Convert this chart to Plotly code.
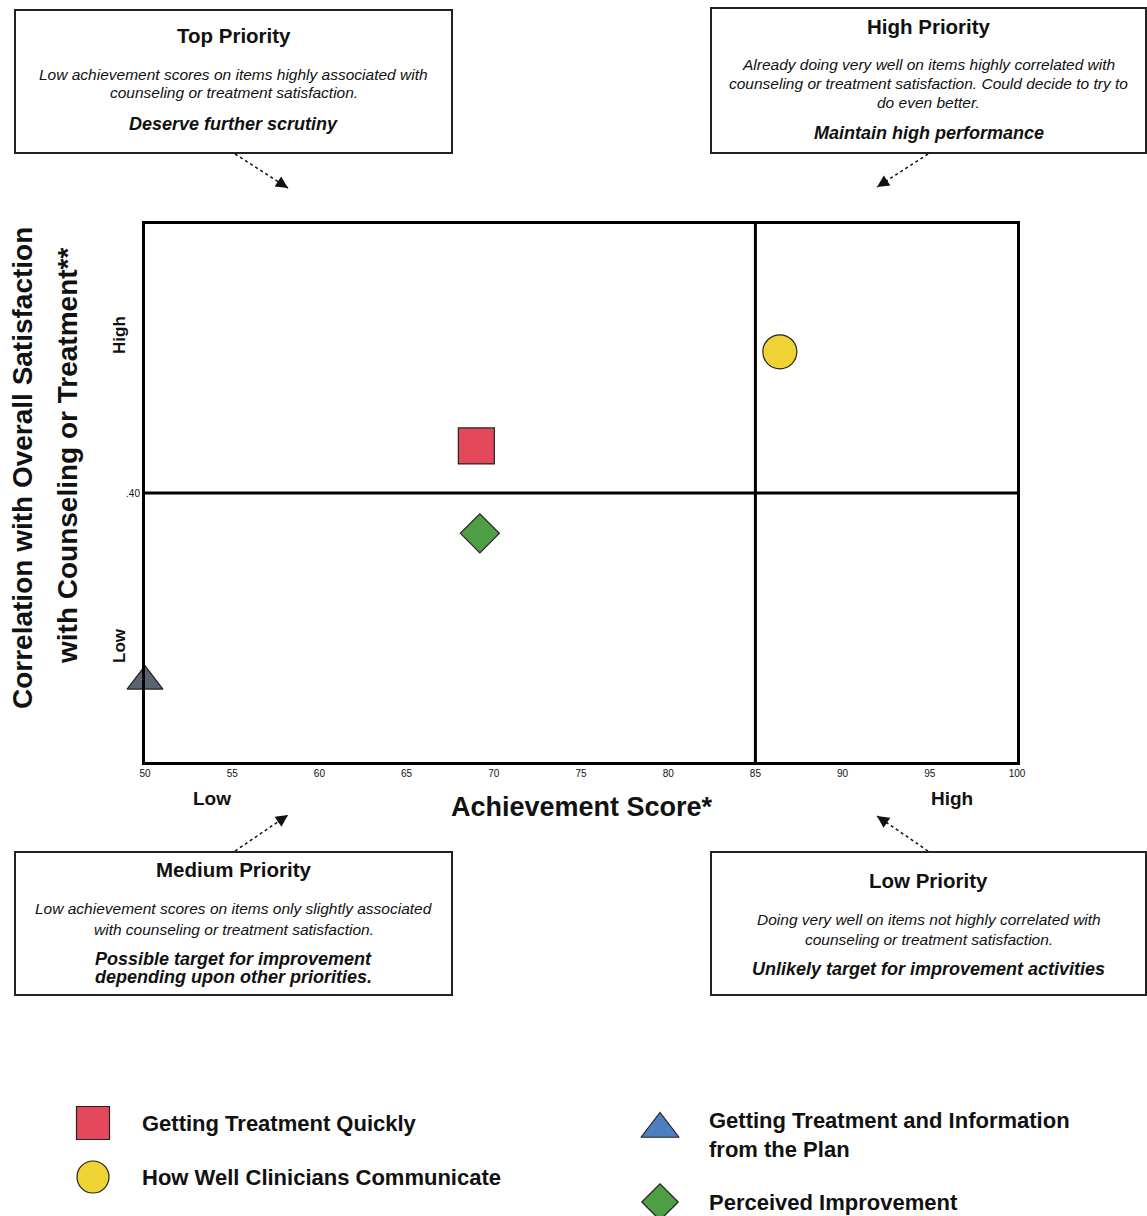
import plotly.graph_objects as go

# ---------------- data ----------------
categories = [
    "Getting Treatment Quickly",
    "How Well Clinicians Communicate",
    "Getting Treatment and Information from the Plan",
    "Perceived Improvement",
]
achievement_score = [69.0, 86.4, 50.0, 69.2]
correlation = [0.47, 0.61, 0.12, 0.34]

x_tick_values = [50, 55, 60, 65, 70, 75, 80, 85, 90, 95, 100]
x_cutoff = 85
y_cutoff = 0.40
y_tick_values = [0.40]
y_tick_labels = [".40"]

legend_labels = [
    "Getting Treatment Quickly",
    "How Well Clinicians Communicate",
    "Getting Treatment and Information<br>from the Plan",
    "Perceived Improvement",
]

quadrants = [
    dict(title="Top Priority",
         desc=["Low achievement scores on items highly associated with",
               "counseling or treatment satisfaction."],
         action=["Deserve further scrutiny"]),
    dict(title="High Priority",
         desc=["Already doing very well on items highly correlated with",
               "counseling or treatment satisfaction. Could decide to try to",
               "do even better."],
         action=["Maintain high performance"]),
    dict(title="Medium Priority",
         desc=["Low achievement scores on items only slightly associated",
               "with counseling or treatment satisfaction."],
         action=["Possible target for improvement",
                 "depending upon other priorities."]),
    dict(title="Low Priority",
         desc=["Doing very well on items not highly correlated with",
               "counseling or treatment satisfaction."],
         action=["Unlikely target for improvement activities"]),
]

# ---------------- styles / layout ----------------
W, H = 1147, 1216
FONT = "Liberation Sans, Arial, sans-serif"
symbols = ["square", "circle", "triangle-up", "diamond"]
marker_colors = ["#E4495B", "#EFD234", "#5B6572", "#4E9E45"]
legend_colors = ["#E4495B", "#EFD234", "#4F7EC0", "#4E9E45"]
marker_sizes = [36, 34, 31, 30]
legend_sizes = [33, 32, 33, 28]
legend_pos = [(93, 1123), (93, 1177), (660, 1129), (660, 1202)]
legend_text_pos = [(140, 1123), (140, 1177), (707, 1135), (707, 1202)]

PL, PR, PT, PB = 145, 1017, 224, 762


def px(x):
    return x / W


def py(y):
    return 1 - y / H


fig = go.Figure()

for i, cat in enumerate(categories):
    fig.add_trace(go.Scatter(
        x=[achievement_score[i]], y=[correlation[i]], mode="markers", name=cat,
        marker=dict(symbol=symbols[i], size=marker_sizes[i], color=marker_colors[i],
                    line=dict(color="#222222", width=1.2)),
        cliponaxis=False, showlegend=False, hoverinfo="name+x+y"))

# custom legend glyphs in a pixel-based helper axis
for i, cat in enumerate(categories):
    fig.add_trace(go.Scatter(
        x=[legend_pos[i][0]], y=[legend_pos[i][1]], xaxis="x2", yaxis="y2",
        mode="markers", showlegend=False, hoverinfo="skip", cliponaxis=False,
        marker=dict(symbol=symbols[i], size=legend_sizes[i], color=legend_colors[i],
                    line=dict(color="#222222", width=1.2))))

annotations = []
shapes = []

# legend text
for i, lab in enumerate(legend_labels):
    annotations.append(dict(
        x=px(legend_text_pos[i][0]), y=py(legend_text_pos[i][1]), xref="paper", yref="paper",
        text="<b>" + lab + "</b>", showarrow=False, xanchor="left", yanchor="middle",
        align="left", font=dict(family=FONT, size=22, color="#111111")))

# quadrant boxes
boxes = [(15, 452, 10, 153), (711, 1146, 8, 153), (15, 452, 852, 995), (711, 1146, 852, 995)]
title_y = [36, 27, 869, 880]
desc_y = [[75, 93], [65, 84, 103], [908, 929], [919, 939]]
action_y = [[124], [133], [959, 977], [969]]
for (x0, x1, y0, y1), q, ty, dy, ay in zip(boxes, quadrants, title_y, desc_y, action_y):
    shapes.append(dict(type="rect", xref="paper", yref="paper",
                       x0=px(x0), x1=px(x1), y0=py(y1), y1=py(y0),
                       line=dict(color="#222222", width=2), fillcolor="rgba(0,0,0,0)",
                       layer="above"))
    cx = px((x0 + x1) / 2)
    annotations.append(dict(x=cx, y=py(ty), xref="paper", yref="paper", showarrow=False,
                            text="<b>" + q["title"] + "</b>", xanchor="center", yanchor="middle",
                            font=dict(family=FONT, size=20.5, color="#111111")))
    for line, yy in zip(q["desc"], dy):
        annotations.append(dict(x=cx, y=py(yy), xref="paper", yref="paper", showarrow=False,
                                text="<i>" + line + "</i>", xanchor="center", yanchor="middle",
                                font=dict(family=FONT, size=15.5, color="#111111")))
    for line, yy in zip(q["action"], ay):
        annotations.append(dict(x=cx, y=py(yy), xref="paper", yref="paper", showarrow=False,
                                text="<b><i>" + line + "</i></b>", xanchor="center",
                                yanchor="middle",
                                font=dict(family=FONT, size=18, color="#111111")))

# arrows (dashed shaft + arrowhead)
arrows = [((235, 154), (288, 188)), ((928, 154), (877, 187)),
          ((235, 851), (288, 815)), ((928, 851), (877, 816))]
for (tx, ty_), (hx, hy) in arrows:
    shapes.append(dict(type="line", xref="paper", yref="paper",
                       x0=px(tx), y0=py(ty_), x1=px(hx), y1=py(hy),
                       line=dict(color="#111111", width=1.5, dash="dot")))
    dx, dy_ = tx - hx, ty_ - hy
    n = (dx * dx + dy_ * dy_) ** 0.5
    annotations.append(dict(x=px(hx), y=py(hy), xref="paper", yref="paper", text="",
                            showarrow=True, arrowhead=2, arrowsize=1.6, arrowwidth=1.5,
                            arrowcolor="#111111", ax=dx / n * 14, ay=dy_ / n * 14,
                            standoff=0))

# axis text
annotations += [
    dict(x=px(582), y=py(807), xref="paper", yref="paper", showarrow=False,
         xanchor="center", yanchor="middle",
         text="<b>Achievement Score*</b>", font=dict(family=FONT, size=27, color="#111111")),
    dict(x=px(212), y=py(798), xref="paper", yref="paper", showarrow=False,
         xanchor="center", yanchor="middle",
         text="<b>Low</b>", font=dict(family=FONT, size=19, color="#111111")),
    dict(x=px(952), y=py(798), xref="paper", yref="paper", showarrow=False,
         xanchor="center", yanchor="middle",
         text="<b>High</b>", font=dict(family=FONT, size=19, color="#111111")),
    dict(x=px(22), y=py(468), xref="paper", yref="paper", showarrow=False, textangle=-90,
         xanchor="center", yanchor="middle",
         text="<b>Correlation with Overall Satisfaction</b>",
         font=dict(family=FONT, size=28, color="#111111")),
    dict(x=px(67), y=py(456), xref="paper", yref="paper", showarrow=False, textangle=-90,
         xanchor="center", yanchor="middle",
         text="<b>with Counseling or Treatment**</b>",
         font=dict(family=FONT, size=28, color="#111111")),
    dict(x=px(119), y=py(335), xref="paper", yref="paper", showarrow=False, textangle=-90,
         xanchor="center", yanchor="middle",
         text="<b>High</b>", font=dict(family=FONT, size=17, color="#111111")),
    dict(x=px(119), y=py(646), xref="paper", yref="paper", showarrow=False, textangle=-90,
         xanchor="center", yanchor="middle",
         text="<b>Low</b>", font=dict(family=FONT, size=17, color="#111111")),
]

# quadrant divider lines
shapes.append(dict(type="line", xref="x", yref="y domain", x0=x_cutoff, x1=x_cutoff,
                   y0=0, y1=1, line=dict(color="black", width=3), layer="below"))
shapes.append(dict(type="line", xref="x domain", yref="y", x0=0, x1=1,
                   y0=y_cutoff, y1=y_cutoff, line=dict(color="black", width=3), layer="below"))

fig.update_layout(
    width=W, height=H, margin=dict(l=0, r=0, t=0, b=0),
    paper_bgcolor="white", plot_bgcolor="rgba(0,0,0,0)", showlegend=False,
    font=dict(family=FONT, color="#111111"),
    xaxis=dict(domain=[px(PL), px(PR)], range=[50, 100], tickvals=x_tick_values,
               showline=True, mirror=True, linewidth=3, linecolor="black",
               showgrid=False, zeroline=False, ticks="", automargin=False,
               tickfont=dict(size=10, family=FONT)),
    yaxis=dict(domain=[py(PB), py(PT)], range=[0, 0.8], tickvals=y_tick_values,
               ticktext=y_tick_labels, showline=True, mirror=True, linewidth=3,
               linecolor="black", showgrid=False, zeroline=False, ticks="",
               automargin=False, tickfont=dict(size=10, family=FONT)),
    xaxis2=dict(domain=[0, 1], range=[0, W], visible=False, anchor="y2", fixedrange=True),
    yaxis2=dict(domain=[0, 1], range=[H, 0], visible=False, anchor="x2", fixedrange=True),
    annotations=annotations, shapes=shapes,
)

fig.write_html("out.html", config={"displayModeBar": False},
               post_script="document.body.style.margin='0';")
